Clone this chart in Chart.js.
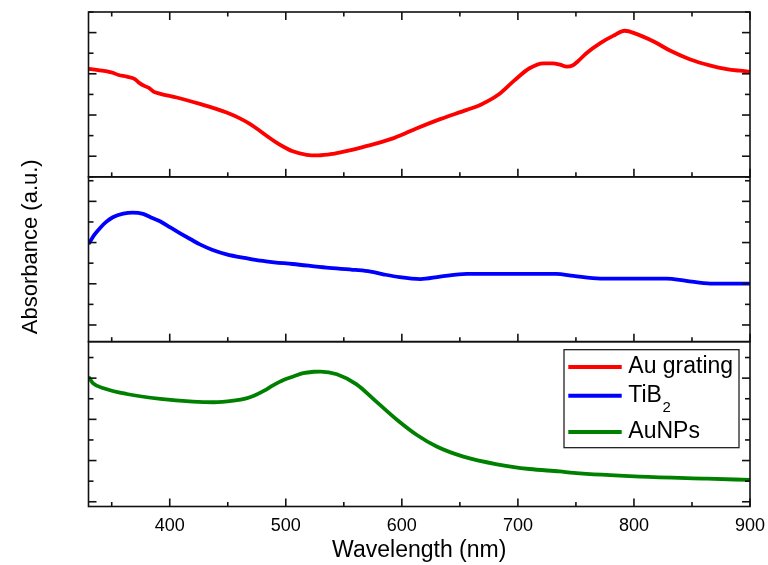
<!DOCTYPE html>
<html><head><meta charset="utf-8">
<script src="https://cdn.jsdelivr.net/npm/chart.js@4"></script>
<style>html,body{margin:0;padding:0;background:#fff}canvas{display:block}</style>
</head><body>
<canvas id="c" width="768" height="565"></canvas>
<script>
// ---- data (wavelength in nm, absorbance in arbitrary panel units) ----
const auGratingWl  = [330,337,346,351,356,363,370,374,379,382,386,392,406,426,440,449,460,469,477,484,491,498,506,518,528,541,555,570,593,613,633,656,668,683,697,710,722,730,737,742,747,752,759,771,782,792,802,817,831,848,866,880,891,900];
const auGratingAbs = [5.24,5.19,5.12,5.05,4.94,4.86,4.74,4.55,4.39,4.32,4.14,4.03,3.85,3.54,3.30,3.12,2.85,2.57,2.26,1.97,1.70,1.46,1.24,1.07,1.04,1.12,1.28,1.50,1.88,2.36,2.80,3.25,3.50,3.98,4.68,5.27,5.51,5.51,5.43,5.35,5.40,5.62,6.00,6.49,6.84,7.09,6.94,6.57,6.13,5.71,5.40,5.23,5.15,5.10];

const tib2Wl  = [330,335,340,345,351,360,368,377,385,392,400,409,418,426,437,449,466,478,490,506,535,560,573,584,598,616,633,656,700,733,748,771,828,845,866,900];
const tib2Abs = [4.74,5.18,5.52,5.80,6.04,6.21,6.26,6.20,6.00,5.83,5.56,5.26,4.97,4.72,4.45,4.24,4.05,3.93,3.85,3.77,3.59,3.48,3.40,3.27,3.13,3.04,3.16,3.29,3.29,3.29,3.19,3.06,3.06,2.95,2.82,2.82];

const auNPsWl  = [330,334,343,363,392,420,438,455,466,472,481,489,498,507,515,524,530,544,561,578,596,613,630,653,682,710,736,748,805,863,900];
const auNPsAbs = [6.29,5.98,5.74,5.46,5.22,5.09,5.06,5.14,5.25,5.36,5.61,5.88,6.14,6.32,6.47,6.54,6.55,6.42,5.93,5.09,4.20,3.47,2.91,2.42,2.05,1.82,1.70,1.63,1.45,1.35,1.29];

const seriesNames  = ['Au grating', 'TiB', 'AuNPs'];
const seriesSubs   = ['', '2', ''];
const seriesColors = ['#ff0000', '#0000ff', '#008000'];

const xMin = 330, xMax = 900;
const xMajorTicks = [400, 500, 600, 700, 800, 900];
const xMinorTicks = [350, 450, 550, 650, 750, 850];

const yTicks1 = [0,1,2,3,4,5,6,7,8];               const yMajor1 = [1,3,5,7];
const yTicks2 = [0.81,1.81,2.81,3.81,4.81,5.81,6.81,7.81]; const yMajor2 = [0.81,2.81,4.81,6.81];
const yTicks3 = [0.23,1.23,2.23,3.23,4.23,5.23,6.23,7.23]; const yMajor3 = [0.23,2.23,4.23,6.23];

const xTitle = 'Wavelength (nm)';
const yTitle = 'Absorbance (a.u.)';

const pts = (xs, ys) => xs.map((x, i) => ({x, y: ys[i]}));

const panels = [
  {id: 'y1', ticks: yTicks1, major: yMajor1, topTicks: true},
  {id: 'y2', ticks: yTicks2, major: yMajor2, topTicks: false},
  {id: 'y3', ticks: yTicks3, major: yMajor3, topTicks: false}
];

function yScale(p) {
  return {
    type: 'linear', position: 'left', stack: 'panels', stackWeight: 1,
    min: 0, max: 8, offset: false,
    grid: {display: false, drawTicks: false}, border: {display: false},
    ticks: {display: false},
    afterBuildTicks: s => { s.ticks = p.ticks.map(v => ({value: v})); },
    afterFit: s => { s.width = 88.5; }
  };
}

const framePlugin = {
  id: 'frame',
  afterDatasetsDraw(chart) {
    const ctx = chart.ctx, ca = chart.chartArea, xs = chart.scales.x;
    ctx.save();
    ctx.strokeStyle = '#111';
    ctx.lineWidth = 1.6;
    const line = (x1, y1, x2, y2) => { ctx.beginPath(); ctx.moveTo(x1, y1); ctx.lineTo(x2, y2); ctx.stroke(); };
    panels.forEach(p => {
      const s = chart.scales[p.id];
      const top = s.top, bottom = s.bottom;
      ctx.strokeRect(ca.left, top, ca.right - ca.left, bottom - top);
      s.ticks.forEach(t => {
        const y = s.getPixelForValue(t.value);
        const len = p.major.includes(t.value) ? 8 : 5;
        line(ca.left, y, ca.left + len, y);
        line(ca.right, y, ca.right - len, y);
      });
      xMajorTicks.forEach(v => {
        const x = xs.getPixelForValue(v);
        line(x, bottom, x, bottom - 8);
        if (p.topTicks) line(x, top, x, top + 8);
      });
      xMinorTicks.forEach(v => {
        const x = xs.getPixelForValue(v);
        line(x, bottom, x, bottom - 4.5);
        if (p.topTicks) line(x, top, x, top + 4.5);
      });
    });
    // y-axis title
    ctx.fillStyle = '#000';
    ctx.font = '22px "Liberation Sans", Arial, sans-serif';
    ctx.textAlign = 'center';
    ctx.textBaseline = 'middle';
    ctx.save();
    ctx.translate(31, (ca.top + ca.bottom) / 2 - 12.5);
    ctx.rotate(-Math.PI / 2);
    ctx.fillText(yTitle, 0, 0);
    ctx.restore();
    // legend
    const bx = ca.right - 186, by = chart.scales.y3.top + 8, bw = 175, bh = 98;
    ctx.fillStyle = '#fff';
    ctx.fillRect(bx, by, bw, bh);
    ctx.lineWidth = 1.3;
    ctx.strokeStyle = '#222';
    ctx.strokeRect(bx, by, bw, bh);
    const rowY = [by + 17.3, by + 46, by + 82.3];
    chart.data.datasets.forEach((d, i) => {
      ctx.strokeStyle = d.borderColor;
      ctx.lineWidth = 4;
      line(bx + 4.3, rowY[i], bx + 57.7, rowY[i]);
      ctx.fillStyle = '#000';
      ctx.textAlign = 'left';
      ctx.textBaseline = 'middle';
      ctx.font = '23px "Liberation Sans", Arial, sans-serif';
      ctx.fillText(seriesNames[i], bx + 64.3, rowY[i]);
      if (seriesSubs[i]) {
        const w = ctx.measureText(seriesNames[i]).width;
        ctx.font = '15px "Liberation Sans", Arial, sans-serif';
        ctx.fillText(seriesSubs[i], bx + 64.3 + w + 0.5, rowY[i] + 12);
      }
    });
    ctx.restore();
  }
};

const mkDs = (label, xs, ys, color, axis) => ({
  label, data: pts(xs, ys), yAxisID: axis,
  borderColor: color, backgroundColor: color, borderWidth: 3.8,
  pointRadius: 0, fill: false, cubicInterpolationMode: 'monotone'
});

new Chart(document.getElementById('c'), {
  type: 'line',
  data: {
    datasets: [
      mkDs('Au grating', auGratingWl, auGratingAbs, seriesColors[0], 'y1'),
      mkDs('TiB2', tib2Wl, tib2Abs, seriesColors[1], 'y2'),
      mkDs('AuNPs', auNPsWl, auNPsAbs, seriesColors[2], 'y3')
    ]
  },
  options: {
    responsive: false, animation: false, devicePixelRatio: 1,
    layout: {padding: {left: 0, top: 12, right: 18, bottom: 0}},
    plugins: {legend: {display: false}, tooltip: {enabled: false}},
    scales: {
      x: {
        type: 'linear', position: 'bottom', min: xMin, max: xMax,
        grid: {display: false, drawTicks: false}, border: {display: false},
        afterBuildTicks: s => { s.ticks = xMajorTicks.map(v => ({value: v})); },
        ticks: {autoSkip: false, maxRotation: 0, padding: 9, color: '#000',
                font: {family: '"Liberation Sans", Arial, sans-serif', size: 18}},
        title: {display: true, text: xTitle, color: '#000', padding: {top: 0, bottom: 1},
                font: {family: '"Liberation Sans", Arial, sans-serif', size: 23}},
        afterFit: s => { s.height = 58.5; s.paddingLeft = 0; s.paddingRight = 0; }
      },
      // stacked left axes are laid out in reverse order: listed bottom panel first
      y3: yScale(panels[2]),
      y2: yScale(panels[1]),
      y1: yScale(panels[0])
    }
  },
  plugins: [framePlugin]
});
</script>
</body></html>
